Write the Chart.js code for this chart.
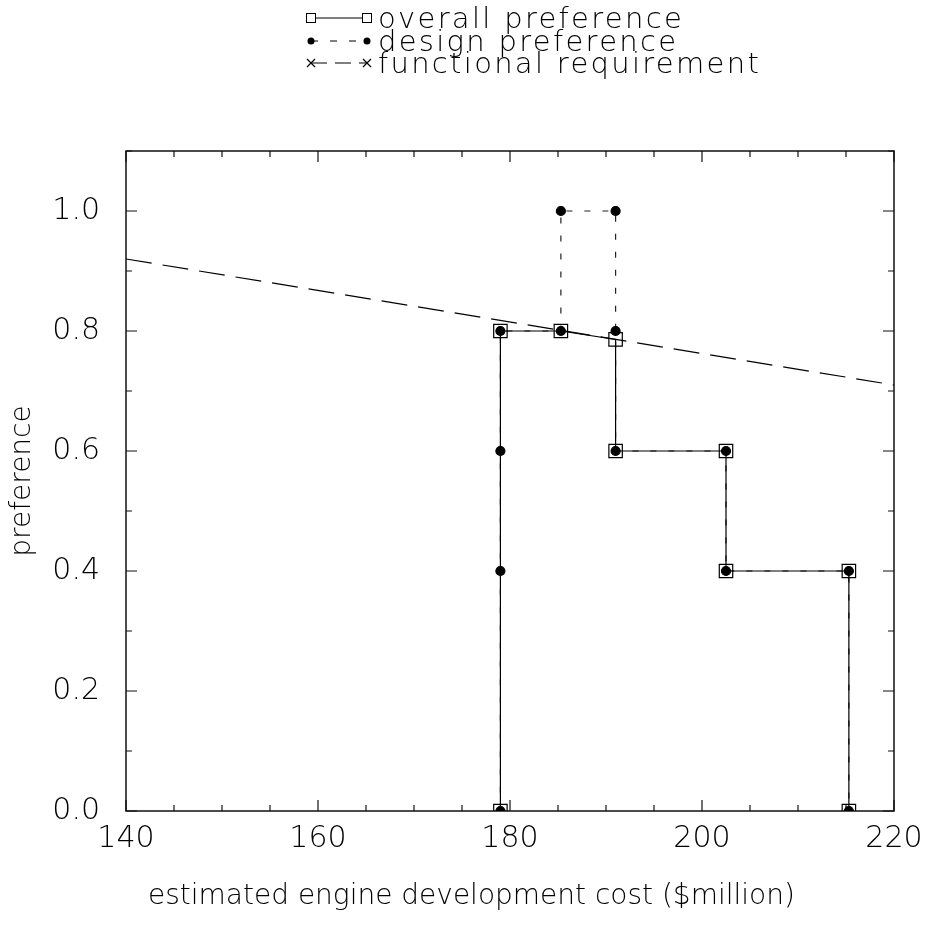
<!DOCTYPE html>
<html>
<head>
<meta charset="utf-8">
<script src="https://cdn.jsdelivr.net/npm/chart.js@4.4.0/dist/chart.umd.min.js"></script>
<style>
  html, body { margin: 0; padding: 0; background: #fff; }
  #wrap { position: relative; width: 929px; height: 944px; }
  #myChart { position: absolute; left: 0; top: 0; }
  .leg { position: absolute; font-family: "DejaVu Sans"; font-weight: 200; font-size: 29px; letter-spacing: 2.3px; color: #000; white-space: nowrap; line-height: 24px; }
  .sample { position: absolute; }
  #xtitle { position: absolute; left: 148px; top: 878px; font-family: "DejaVu Sans"; font-weight: 200; font-size: 28px; line-height: 34px; color: #000; white-space: nowrap; }
</style>
</head>
<body>
<div id="wrap">
  <canvas id="myChart" width="929" height="944"></canvas>
  <svg class="sample" style="left:301px;top:8px" width="76" height="20">
    <line x1="10" y1="10" x2="66" y2="10" stroke="#000" stroke-width="1.2"/>
    <rect x="5.5" y="5.5" width="9" height="9" fill="#fff" stroke="#000"/>
    <rect x="61.5" y="5.5" width="9" height="9" fill="#fff" stroke="#000"/>
  </svg>
  <div class="leg" style="left:378px;top:6px">overall preference</div>
  <svg class="sample" style="left:301px;top:31px" width="76" height="20">
    <line x1="10" y1="10" x2="66" y2="10" stroke="#000" stroke-width="1.2" stroke-dasharray="7 12"/>
    <circle cx="10" cy="10" r="3.5" fill="#000"/>
    <circle cx="66" cy="10" r="3.5" fill="#000"/>
  </svg>
  <div class="leg" style="left:378px;top:29px">design preference</div>
  <svg class="sample" style="left:301px;top:53px" width="76" height="20">
    <line x1="10" y1="10" x2="66" y2="10" stroke="#000" stroke-width="1.2" stroke-dasharray="16 8"/>
    <path d="M6 6 L14 14 M6 14 L14 6 M62 6 L70 14 M62 14 L70 6" stroke="#000" stroke-width="1.2"/>
  </svg>
  <div class="leg" style="left:378px;top:51px">functional requirement</div>
  <div id="xtitle">estimated engine development cost ($million)</div>
</div>
<script>
const ctx = document.getElementById('myChart').getContext('2d');

// Data
const overallX = [179, 179, 185.3, 191, 191, 202.5, 202.5, 215.3, 215.3];
const overallY = [0, 0.8, 0.8, 0.786, 0.6, 0.6, 0.4, 0.4, 0];

const designX = [179, 179, 179, 179, 185.3, 185.3, 191, 191, 191, 202.5, 202.5, 215.3, 215.3];
const designY = [0, 0.4, 0.6, 0.8, 0.8, 1.0, 1.0, 0.8, 0.6, 0.6, 0.4, 0.4, 0];

const requirementX = [140, 220];
const requirementY = [0.92, 0.71];

const xTicks = [140, 160, 180, 200, 220];
const yTicks = [0, 0.2, 0.4, 0.6, 0.8, 1.0];

const toPoints = (xs, ys) => xs.map((x, i) => ({ x: x, y: ys[i] }));

const FONT = 'DejaVu Sans';

// box + inward ticks on all four sides
const framePlugin = {
  id: 'frame',
  beforeDatasetsDraw(chart) {
    const { ctx, chartArea: a, scales: { x, y } } = chart;
    ctx.save();
    ctx.strokeStyle = '#111';
    ctx.lineWidth = 1.5;
    ctx.strokeRect(a.left, a.top, a.right - a.left, a.bottom - a.top);
    ctx.lineWidth = 1.2;
    ctx.beginPath();
    for (let v = 140; v <= 220; v += 5) {
      const px = x.getPixelForValue(v);
      const len = v % 20 === 0 ? 11 : 6;
      ctx.moveTo(px, a.bottom); ctx.lineTo(px, a.bottom - len);
      ctx.moveTo(px, a.top); ctx.lineTo(px, a.top + len);
    }
    for (let i = 0; i <= 11; i++) {
      const py = y.getPixelForValue(i / 10);
      const len = i % 2 === 0 ? 11 : 6;
      ctx.moveTo(a.left, py); ctx.lineTo(a.left + len, py);
      ctx.moveTo(a.right, py); ctx.lineTo(a.right - len, py);
    }
    ctx.stroke();
    ctx.restore();
  }
};

const myChart = new Chart(ctx, {
  type: 'scatter',
  data: {
    datasets: [{
      label: 'functional requirement',
      data: toPoints(requirementX, requirementY),
      showLine: true,
      borderColor: '#000',
      borderWidth: 1.2,
      borderDash: [26, 11],
      pointRadius: 0,
      order: 3
    }, {
      label: 'design preference',
      data: toPoints(designX, designY),
      showLine: true,
      borderColor: '#222',
      borderWidth: 1.2,
      borderDash: [6, 12],
      pointRadius: 4.5,
      pointBackgroundColor: '#000',
      pointBorderColor: '#000',
      order: 2
    }, {
      label: 'overall preference',
      data: toPoints(overallX, overallY),
      showLine: true,
      borderColor: '#000',
      borderWidth: 1.2,
      pointStyle: 'rect',
      pointRadius: 9.5,
      pointBorderWidth: 1.2,
      pointBackgroundColor: 'transparent',
      pointBorderColor: '#000',
      order: 1
    }]
  },
  options: {
    responsive: false,
    animation: false,
    layout: { padding: { top: 151, right: 35, left: 0, bottom: 0 } },
    plugins: {
      legend: { display: false },
      tooltip: { enabled: false }
    },
    scales: {
      x: {
        type: 'linear',
        min: 140,
        max: 220,
        afterBuildTicks: s => { s.ticks = xTicks.map(v => ({ value: v })); },
        afterFit: s => { s.height = 133; s.paddingLeft = 0; s.paddingRight = 0; },
        grid: { display: false, drawTicks: false },
        border: { display: false },
        ticks: {
          padding: 10,
          color: '#000',
          font: { family: FONT, size: 30, weight: 200 }
        }
      },
      y: {
        type: 'linear',
        min: 0,
        max: 1.1,
        afterBuildTicks: s => { s.ticks = yTicks.map(v => ({ value: v })); },
        afterFit: s => { s.width = 126; },
        grid: { display: false, drawTicks: false },
        border: { display: false },
        ticks: {
          padding: 26,
          color: '#000',
          font: { family: FONT, size: 30, weight: 200 },
          callback: v => v.toFixed(1)
        },
        title: {
          display: true,
          text: 'preference',
          color: '#000',
          padding: { top: 6, bottom: 0 },
          font: { family: FONT, size: 28, weight: 200 }
        }
      }
    }
  },
  plugins: [framePlugin]
});
</script>
</body>
</html>
